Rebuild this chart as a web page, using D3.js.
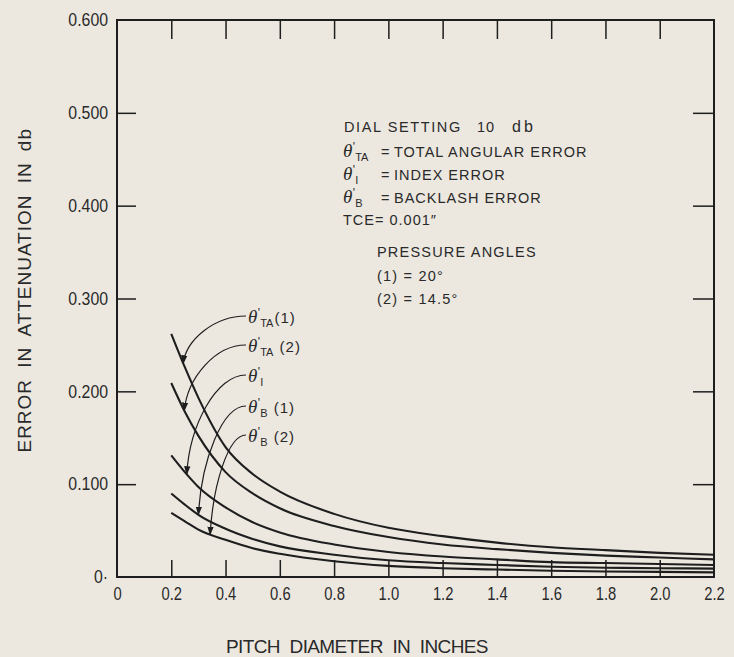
<!DOCTYPE html>
<html>
<head>
<meta charset="utf-8">
<script src="https://cdn.jsdelivr.net/npm/d3@7/dist/d3.min.js"></script>
<style>
  html, body { margin: 0; padding: 0; background: #ece8e0; }
  svg { display: block; }
  text { fill: #2a2a2a; font-family: "Liberation Sans", "Noto Sans", sans-serif; }
  .tick-label { font-family: "Liberation Sans", sans-serif; font-size: 18px; }
</style>
</head>
<body>
<svg id="chart" width="734" height="657"></svg>
<script>
// ---- data ----
const pitchDiameter = [0.2, 0.25, 0.3, 0.4, 0.5, 0.6, 0.8, 1.0, 1.2, 1.4, 1.6, 1.8, 2.0, 2.2];
const totalAngular1 = [0.262, 0.226, 0.193, 0.140, 0.111, 0.092, 0.068, 0.053, 0.044, 0.037, 0.032, 0.029, 0.026, 0.024];
const totalAngular2 = [0.209, 0.178, 0.152, 0.113, 0.090, 0.074, 0.055, 0.043, 0.035, 0.030, 0.026, 0.023, 0.021, 0.019];
const indexError    = [0.131, 0.113, 0.097, 0.075, 0.059, 0.048, 0.035, 0.027, 0.022, 0.019, 0.016, 0.015, 0.014, 0.013];
const backlash1     = [0.090, 0.078, 0.067, 0.052, 0.041, 0.033, 0.024, 0.018, 0.015, 0.013, 0.011, 0.010, 0.0095, 0.009];
const backlash2     = [0.069, 0.060, 0.051, 0.040, 0.031, 0.025, 0.017, 0.012, 0.0095, 0.008, 0.0068, 0.006, 0.0055, 0.005];

const xTicks = [0, 0.2, 0.4, 0.6, 0.8, 1.0, 1.2, 1.4, 1.6, 1.8, 2.0, 2.2];
const xTickLabels = ["0", "0.2", "0.4", "0.6", "0.8", "1.0", "1.2", "1.4", "1.6", "1.8", "2.0", "2.2"];
const yTicks = [0, 0.1, 0.2, 0.3, 0.4, 0.5, 0.6];
const yTickLabels = ["0·", "0.100", "0.200", "0.300", "0.400", "0.500", "0.600"];

// curve labels: subscript, suffix, x-value where the leader arrow meets the curve
const seriesNames = ["TA(1)", "TA(2)", "I", "B(1)", "B(2)"];
const labelSubs = ["TA", "TA", "I", "B", "B"];
const labelSuffix = ["(1)", " (2)", "", " (1)", " (2)"];
const arrowAtX = [0.244, 0.248, 0.257, 0.300, 0.343];

const notes = [
  { sub: "TA", text: "TOTAL ANGULAR ERROR" },
  { sub: "I", text: "INDEX ERROR" },
  { sub: "B", text: "BACKLASH ERROR" }
];
const dialText = ["DIAL SETTING", "10", "db"];
const tceText = "TCE= 0.001\u2033";
const pressureNotes = ["PRESSURE ANGLES", "(1) = 20°", "(2) = 14.5°"];

const xTitle = "PITCH DIAMETER IN INCHES";
const yTitle = "ERROR IN ATTENUATION IN db";

// ---- layout ----
const L = 117, R = 714, T = 20, B = 577;
const ink = "#1e1e1e";
const svg = d3.select("#chart");

const x = d3.scaleLinear().domain([0, 2.2]).range([L, R]);
const y = d3.scaleLinear().domain([0, 0.6]).range([B, T]);

// frame
svg.append("rect").attr("x", L).attr("y", T).attr("width", R - L).attr("height", B - T)
  .attr("fill", "none").attr("stroke", ink).attr("stroke-width", 2);

// axes with inward ticks
const innerX = xTicks.filter(d => d > 0 && d < 2.2);
const innerY = yTicks.filter(d => d > 0 && d < 0.6);

const axB = svg.append("g").attr("transform", `translate(0,${B})`)
  .call(d3.axisBottom(x).tickValues(innerX).tickSize(-17).tickFormat(""));
const axT = svg.append("g").attr("transform", `translate(0,${T})`)
  .call(d3.axisTop(x).tickValues(innerX).tickSize(-19).tickFormat(""));
const axL = svg.append("g").attr("transform", `translate(${L},0)`)
  .call(d3.axisLeft(y).tickValues(innerY).tickSize(-19).tickFormat(""));
const axR = svg.append("g").attr("transform", `translate(${R},0)`)
  .call(d3.axisRight(y).tickValues(innerY).tickSize(-21).tickFormat(""));
[axB, axT, axL, axR].forEach(a => {
  a.select(".domain").remove();
  a.selectAll("line").attr("stroke", ink).attr("stroke-width", 1.5);
});

// condensed tick labels
function condense(sel, f) {
  sel.each(function () {
    const w = this.getComputedTextLength();
    d3.select(this).attr("textLength", w * f).attr("lengthAdjust", "spacingAndGlyphs");
  });
}
const axLab = svg.append("g").attr("transform", `translate(0,${B})`)
  .call(d3.axisBottom(x).tickValues(xTicks).tickSize(0).tickPadding(10)
    .tickFormat((d, i) => xTickLabels[i]));
axLab.select(".domain").remove();
axLab.selectAll("text").attr("class", "tick-label").attr("fill", "#2a2a2a");
condense(axLab.selectAll("text"), 0.82);

const ayLab = svg.append("g").attr("transform", `translate(${L},0)`)
  .call(d3.axisLeft(y).tickValues(yTicks).tickSize(0).tickPadding(9)
    .tickFormat((d, i) => yTickLabels[i]));
ayLab.select(".domain").remove();
ayLab.selectAll("text").attr("class", "tick-label").attr("fill", "#2a2a2a");
condense(ayLab.selectAll("text"), 0.88);

// axis titles
svg.append("text").attr("x", 358).attr("y", 653)
  .attr("text-anchor", "middle").attr("font-size", 19).attr("letter-spacing", 1.5)
  .attr("word-spacing", 5)
  .attr("textLength", 264).attr("lengthAdjust", "spacing")
  .text(xTitle);
svg.append("text").attr("transform", "translate(31,290) rotate(-90)")
  .attr("text-anchor", "middle").attr("font-size", 19).attr("letter-spacing", 1.5)
  .attr("word-spacing", 5)
  .attr("textLength", 325).attr("lengthAdjust", "spacing")
  .text(yTitle);

// curves
const seriesValues = [totalAngular1, totalAngular2, indexError, backlash1, backlash2];
const line = d3.line().x(d => x(d[0])).y(d => y(d[1])).curve(d3.curveMonotoneX);
const paths = seriesValues.map(vals => {
  const pts = pitchDiameter.map((p, i) => [p, vals[i]]);
  return svg.append("path").datum(pts).attr("d", line)
    .attr("fill", "none").attr("stroke", ink).attr("stroke-width", 2.1);
});

function pointAtX(pathNode, px) {
  const len = pathNode.getTotalLength();
  let lo = 0, hi = len;
  for (let k = 0; k < 40; k++) {
    const mid = (lo + hi) / 2;
    if (pathNode.getPointAtLength(mid).x < px) lo = mid; else hi = mid;
  }
  return pathNode.getPointAtLength((lo + hi) / 2);
}

// theta label helper (single text element, glyphs placed left to right)
function theta(g, x0, yb, sub, suffix) {
  const t = g.append("text").attr("x", x0).attr("y", yb);
  t.append("tspan").attr("font-family", "Liberation Serif, DejaVu Serif, serif")
    .attr("font-style", "italic").attr("font-size", 19).text("θ");
  t.append("tspan").attr("font-size", 12).attr("dy", -6).attr("dx", 0.5).text("'");
  if (sub) {
    t.append("tspan").attr("font-size", 11).attr("dy", 10).text(sub);
  }
  if (suffix) {
    t.append("tspan").attr("font-size", 15).attr("dy", sub ? -4 : 6).attr("dx", 1)
      .attr("letter-spacing", 1).text(suffix);
  }
  return t;
}

// curve labels with leaders
const labelX = 248;
const labelBase = [323, 352, 382, 413, 442];
const labels = svg.append("g");
const defs = svg.append("defs");
defs.append("marker").attr("id", "arr").attr("viewBox", "0 0 10 10")
  .attr("refX", 9).attr("refY", 5).attr("markerWidth", 9).attr("markerHeight", 9)
  .attr("markerUnits", "userSpaceOnUse").attr("orient", "auto")
  .append("path").attr("d", "M0,1.5 L10,5 L0,8.5 Z").attr("fill", ink);

seriesNames.forEach((nm, i) => {
  theta(labels, labelX, labelBase[i], labelSubs[i], labelSuffix[i]);
  const sx = labelX - 2, sy = labelBase[i] - 7;
  const e = pointAtX(paths[i].node(), x(arrowAtX[i]));
  const c1x = sx - (sx - e.x) * 0.5, c1y = sy;
  const c2x = e.x + 3, c2y = e.y - (e.y - sy) * 0.5;
  svg.append("path")
    .attr("d", `M${sx},${sy} C${c1x},${c1y} ${c2x},${c2y} ${e.x},${e.y}`)
    .attr("fill", "none").attr("stroke", ink).attr("stroke-width", 1.2)
    .attr("marker-end", "url(#arr)");
});

// notes block
const notesG = svg.append("g");
const fs = 14.5;
notesG.append("text").attr("x", 344).attr("y", 132).attr("font-size", fs)
  .attr("letter-spacing", 1.6).text(dialText[0]);
notesG.append("text").attr("x", 477).attr("y", 132).attr("font-size", fs)
  .attr("letter-spacing", 1).text(dialText[1]);
notesG.append("text").attr("x", 512).attr("y", 132).attr("font-size", 16)
  .attr("letter-spacing", 3).text(dialText[2]);

const noteBase = [157, 180, 203];
notes.forEach((n, i) => {
  theta(notesG, 343, noteBase[i], n.sub, null);
  notesG.append("text").attr("x", 381).attr("y", noteBase[i])
    .attr("font-size", fs).text("=");
  notesG.append("text").attr("x", 394).attr("y", noteBase[i])
    .attr("font-size", fs).attr("letter-spacing", 1).text(n.text);
});
notesG.append("text").attr("x", 343).attr("y", 225).attr("font-size", fs)
  .attr("letter-spacing", 1).text(tceText);

const pBase = [257, 281, 304];
pressureNotes.forEach((t, i) => {
  notesG.append("text").attr("x", 377).attr("y", pBase[i])
    .attr("font-size", fs).attr("letter-spacing", 1.2).text(t);
});
</script>
</body>
</html>
